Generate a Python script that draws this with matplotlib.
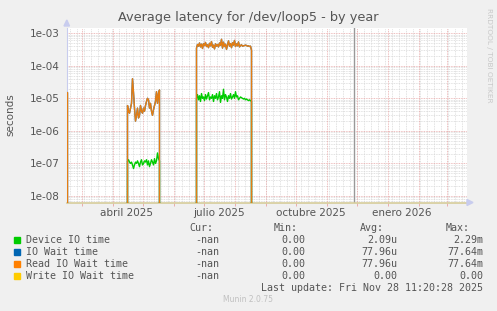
import datetime as dt
import numpy as np
import matplotlib
matplotlib.use("Agg")
import matplotlib.pyplot as plt
import matplotlib.dates as mdates
from matplotlib.ticker import FixedLocator, NullFormatter

# time frame (one value per day)
start = dt.date(2025, 2, 14)
end = dt.date(2026, 3, 21)
now = dt.date(2025, 11, 28)

# first samples at the left edge
edge_read = [1.5e-5, 1.5e-5]

# spring burst, starts 2025-04-16
burst1_start = dt.date(2025, 4, 16)
burst1_read = [6e-6, 4e-6, 3.5e-6, 5e-6, 7e-6, 4e-5, 1.5e-5, 5e-6, 2e-6, 3e-6,
               5e-6, 2.5e-6, 3e-6, 6e-6, 4e-6, 3.5e-6, 5e-6, 4e-6, 6e-6, 8e-6,
               1e-5, 9e-6, 5e-6, 7e-6, 4e-6, 3e-6, 4.5e-6, 6e-6, 8e-6, 1.6e-5,
               7e-6, 1.4e-5, 1.8e-5]
burst1_dev = [1.2e-7, 1.3e-7, 1.1e-7, 1.0e-7, 1.1e-7, 9e-8, 7e-8, 9e-8, 1.1e-7, 1.0e-7,
              1.2e-7, 1.0e-7, 8e-8, 1.1e-7, 1.3e-7, 9e-8, 1.0e-7, 1.2e-7, 1.1e-7, 1.3e-7,
              9e-8, 1.2e-7, 8e-8, 1.0e-7, 1.3e-7, 1.1e-7, 9e-8, 1.4e-7, 1.0e-7, 1.2e-7,
              2.1e-7, 1.4e-7, 1.2e-7]

# summer burst, starts 2025-06-24
burst2_start = dt.date(2025, 6, 24)
burst2_read = [3.5e-4, 4.5e-4, 4.0e-4, 5.0e-4, 3.8e-4, 4.6e-4, 3.4e-4, 4.8e-4, 4.2e-4, 5.2e-4,
               3.9e-4, 4.4e-4, 3.6e-4, 4.9e-4, 4.1e-4, 5.5e-4, 3.7e-4, 4.3e-4, 3.3e-4, 4.7e-4,
               4.0e-4, 4.5e-4, 3.8e-4, 5.0e-4, 4.2e-4, 6.5e-4, 3.5e-4, 5.3e-4, 3.9e-4, 4.6e-4,
               3.2e-4, 4.4e-4, 5.8e-4, 4.0e-4, 4.8e-4, 3.6e-4, 5.1e-4, 4.3e-4, 6.0e-4, 3.9e-4,
               4.7e-4, 4.1e-4, 5.4e-4, 3.8e-4, 4.2e-4, 4.4e-4, 4.0e-4, 4.1e-4, 4.2e-4, 4.3e-4,
               4.2e-4, 4.0e-4, 4.1e-4, 3.9e-4, 4.0e-4, 3.0e-4]
burst2_dev = [1.0e-5, 1.3e-5, 9e-6, 1.2e-5, 8e-6, 1.4e-5, 1.0e-5, 1.1e-5, 8.5e-6, 1.3e-5,
              9.5e-6, 1.2e-5, 1.5e-5, 9e-6, 1.1e-5, 1.0e-5, 1.3e-5, 8e-6, 1.2e-5, 1.0e-5,
              1.4e-5, 9e-6, 1.1e-5, 1.6e-5, 7.5e-6, 1.2e-5, 1.0e-5, 1.9e-5, 9e-6, 1.3e-5,
              1.1e-5, 8e-6, 1.2e-5, 1.0e-5, 1.4e-5, 9.5e-6, 1.1e-5, 1.3e-5, 1.0e-5, 1.6e-5,
              1.1e-5, 1.2e-5, 9e-6, 1.0e-5, 1.1e-5, 1.05e-5, 1.0e-5, 9.5e-6, 1.0e-5, 9e-6,
              9.5e-6, 9e-6, 8.5e-6, 9e-6, 8.5e-6, 8e-6]

legend_names = ["Device IO time", "IO Wait time", "Read IO Wait time", "Write IO Wait time"]
legend_colors = ["#00CC00", "#0066B3", "#FF8000", "#FFCC00"]
cur_vals = ["-nan", "-nan", "-nan", "-nan"]
min_vals = ["0.00", "0.00", "0.00", "0.00"]
avg_vals = ["2.09u", "77.96u", "77.96u", "0.00"]
max_vals = ["2.29m", "77.64m", "77.64m", "0.00"]
last_update = "Last update: Fri Nov 28 11:20:28 2025"

# build daily series: zero between bursts, unknown after "now"
ndays = (end - start).days + 1
days = [start + dt.timedelta(days=i) for i in range(ndays)]
n_known = (now - start).days + 1
dev = np.full(ndays, np.nan)
read = np.full(ndays, np.nan)
dev[:n_known] = 0.0
read[:n_known] = 0.0
read[:len(edge_read)] = edge_read
i1 = (burst1_start - start).days
read[i1:i1 + len(burst1_read)] = burst1_read
dev[i1:i1 + len(burst1_dev)] = burst1_dev
i2 = (burst2_start - start).days
read[i2:i2 + len(burst2_read)] = burst2_read
dev[i2:i2 + len(burst2_dev)] = burst2_dev
iowait = read.copy()
write = np.where(np.isnan(read), np.nan, 0.0)

W, H = 497, 311
fig = plt.figure(figsize=(W / 100, H / 100), dpi=100, facecolor="#F0F0F0")
ax = fig.add_axes([66.5 / W, (H - 202.5) / H, 400 / W, 174.5 / H])
ax.set_facecolor("white")
ax.set_yscale("log")
ax.set_xlim(mdates.date2num(start), mdates.date2num(start) + 400)
ax.set_ylim(10 ** -8.2, 10 ** -2.84)

# grid
grid_minor = dict(color="#D8D8D8", lw=0.6, ls=(0, (1, 1)), zorder=0)
grid_major = dict(color="#E8A8A8", lw=0.6, ls=(0, (1, 1)), zorder=0)
for e in range(-9, -2):
    for m in range(2, 10):
        ax.axhline(m * 10.0 ** e, **grid_minor)
d = start
while d <= end:
    if d.weekday() == 0:
        ax.axvline(mdates.date2num(d), **grid_minor)
    d += dt.timedelta(days=1)
months = [dt.date(2025, m, 1) for m in range(3, 13)] + [dt.date(2026, 1, 1), dt.date(2026, 2, 1), dt.date(2026, 3, 1)]
for d in months:
    ax.axvline(mdates.date2num(d), **grid_major)
for e in range(-8, -2):
    ax.axhline(10.0 ** e, **grid_major)

ax.axvline(mdates.date2num(now), color="#999999", lw=1.0, zorder=1)

ax.plot(days, dev, color=legend_colors[0], lw=1.0, zorder=3)
ax.plot(days, iowait, color=legend_colors[1], lw=1.0, zorder=3)
ax.plot(days, read, color=legend_colors[2], lw=1.0, zorder=4, alpha=0.9)
ax.plot(days, write, color=legend_colors[3], lw=1.0, zorder=4)

for s in ["top", "right"]:
    ax.spines[s].set_visible(False)
ax.spines["left"].set_color("#C8CCEE")
ax.spines["bottom"].set_color("#D6CC9A")
ax.spines["left"].set_linewidth(0.8)
ax.spines["bottom"].set_linewidth(1.2)

ax.yaxis.set_major_locator(FixedLocator([10.0 ** e for e in range(-8, -2)]))
ax.yaxis.set_minor_formatter(NullFormatter())
ax.yaxis.set_minor_locator(FixedLocator([]))
ax.set_yticklabels([f"1e-0{-e}" for e in range(-8, -2)])
ax.tick_params(axis="y", length=0, pad=5, labelsize=7.5, labelcolor="#555555")

ax.xaxis.set_major_locator(FixedLocator([mdates.date2num(dt.date(2025, 4, 15)),
                                         mdates.date2num(dt.date(2025, 7, 16)),
                                         mdates.date2num(dt.date(2025, 10, 16)),
                                         mdates.date2num(dt.date(2026, 1, 15))]))
ax.set_xticklabels(["abril 2025", "julio 2025", "octubre 2025", "enero 2026"])
ax.tick_params(axis="x", length=0, pad=4, labelsize=7.5, labelcolor="#555555")
ax.xaxis.set_minor_locator(FixedLocator([mdates.date2num(d) for d in months]))
ax.tick_params(axis="x", which="minor", length=2, color="#E8A0A0", direction="out")

# axis arrows
fig.patches.append(plt.Polygon([[64 / W, (H - 26) / H], [69.5 / W, (H - 26) / H], [66.8 / W, (H - 20) / H]],
                               closed=True, transform=fig.transFigure, color="#C8CCEE"))
fig.patches.append(plt.Polygon([[467 / W, (H - 199.5) / H], [467 / W, (H - 205.5) / H], [473 / W, (H - 202.5) / H]],
                               closed=True, transform=fig.transFigure, color="#C8CCEE"))

fig.text(248 / W, 1 - 18 / H, "Average latency for /dev/loop5 - by year", ha="center", va="center",
         fontsize=9.3, color="#555555")
fig.text(10 / W, 1 - 115 / H, "seconds", rotation=90, ha="center", va="center", fontsize=7.5, color="#555555")
fig.text(489 / W, 1 - 55 / H, "RRDTOOL / TOBI OETIKER", rotation=270, ha="center", va="center",
         fontsize=5.3, color="#C8C8C8")

mono = dict(family="DejaVu Sans Mono", fontsize=7.2, color="#555555", va="center")
fig.text(213 / W, 1 - 228 / H, "Cur:", ha="right", **mono)
fig.text(298 / W, 1 - 228 / H, "Min:", ha="right", **mono)
fig.text(384 / W, 1 - 228 / H, "Avg:", ha="right", **mono)
fig.text(470 / W, 1 - 228 / H, "Max:", ha="right", **mono)
for k in range(4):
    y = 1 - (240 + 12 * k) / H
    fig.patches.append(plt.Rectangle((14 / W, y - 3 / H), 6 / W, 6 / H, transform=fig.transFigure,
                                     color=legend_colors[k]))
    fig.text(26 / W, y, legend_names[k], ha="left", **mono)
    fig.text(219 / W, y, cur_vals[k], ha="right", **mono)
    fig.text(305 / W, y, min_vals[k], ha="right", **mono)
    fig.text(397 / W, y, avg_vals[k], ha="right", **mono)
    fig.text(483 / W, y, max_vals[k], ha="right", **mono)
fig.text(483 / W, 1 - 288 / H, last_update, ha="right", **mono)
fig.text(248 / W, 1 - 300 / H, "Munin 2.0.75", ha="center", va="center", fontsize=5.5, color="#C0C0C0")

fig.savefig("out.png", dpi=100, facecolor=fig.get_facecolor())
